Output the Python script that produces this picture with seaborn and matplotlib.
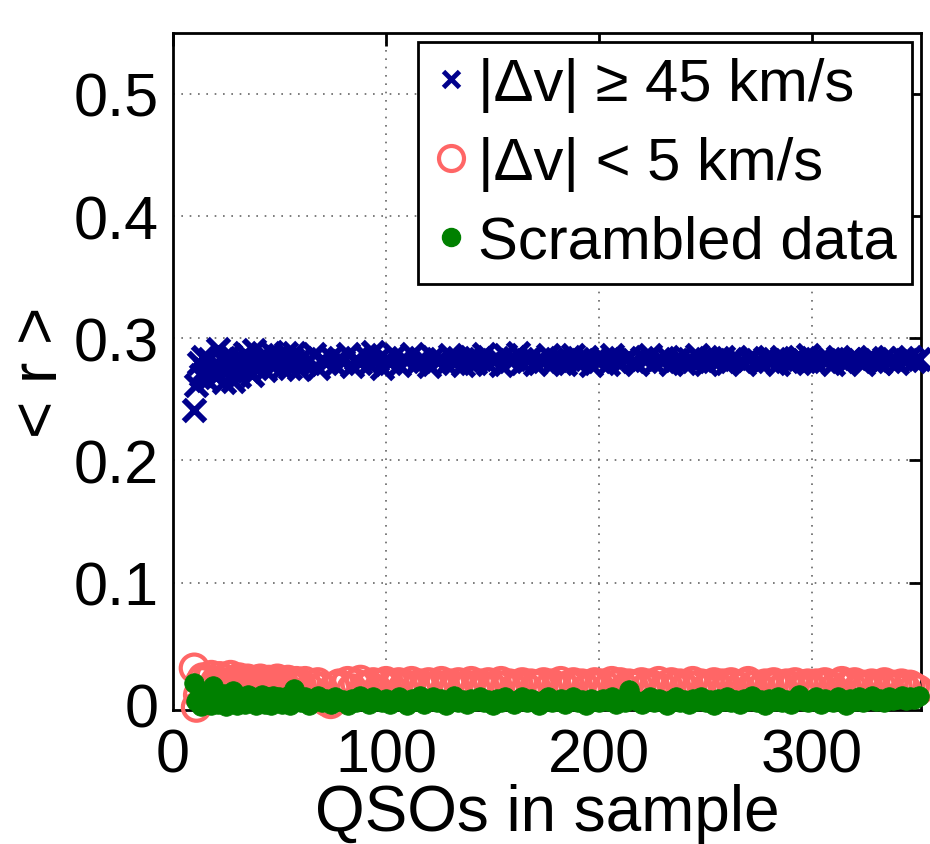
import matplotlib
matplotlib.use("Agg")
import matplotlib.pyplot as plt
from matplotlib.lines import Line2D
import seaborn as sns
import pandas as pd

# ---- data ----
n_qso = list(range(10, 60)) + list(range(60, 351, 2))

r_large = [
    0.241, 0.262, 0.280, 0.270, 0.285, 0.275, 0.266, 0.283, 0.272, 0.278,
    0.268, 0.291, 0.276, 0.283, 0.264, 0.280, 0.274, 0.286, 0.265, 0.281,
    0.277, 0.269, 0.284, 0.279, 0.288, 0.273, 0.282, 0.270, 0.290, 0.276,
    0.279, 0.284, 0.286, 0.274, 0.281, 0.283, 0.289, 0.277, 0.280, 0.285,
    0.281, 0.276, 0.285, 0.288, 0.279, 0.276, 0.283, 0.288, 0.280, 0.275,
    0.284, 0.279, 0.282, 0.287, 0.276, 0.283, 0.280, 0.285, 0.278, 0.284,
    0.281, 0.287, 0.277, 0.283, 0.280, 0.286, 0.279, 0.289, 0.282, 0.276,
    0.283, 0.280, 0.286, 0.278, 0.284, 0.281, 0.287, 0.279, 0.283, 0.282,
    0.277, 0.285, 0.281, 0.283, 0.279, 0.286, 0.280, 0.284, 0.278, 0.282,
    0.285, 0.280, 0.283, 0.287, 0.279, 0.282, 0.284, 0.278, 0.286, 0.281,
    0.283, 0.288, 0.280, 0.282, 0.285, 0.279, 0.283, 0.281, 0.286, 0.280,
    0.282, 0.284, 0.279, 0.283, 0.286, 0.280, 0.282, 0.285, 0.278, 0.283,
    0.281, 0.284, 0.279, 0.286, 0.282, 0.280, 0.283, 0.285, 0.281, 0.279,
    0.284, 0.282, 0.286, 0.280, 0.283, 0.281, 0.285, 0.279, 0.282, 0.284,
    0.280, 0.283, 0.281, 0.286, 0.282, 0.279, 0.284, 0.281, 0.283, 0.285,
    0.280, 0.282, 0.284, 0.281, 0.279, 0.283, 0.285, 0.282, 0.280, 0.284,
    0.281, 0.283, 0.279, 0.285, 0.282, 0.280, 0.284, 0.283, 0.281, 0.286,
    0.282, 0.280, 0.284, 0.281, 0.283, 0.279, 0.285, 0.282, 0.280, 0.283,
    0.284, 0.281, 0.279, 0.283, 0.285, 0.282, 0.280, 0.284, 0.281, 0.283,
    0.280, 0.284, 0.282, 0.285, 0.281, 0.283,
]

r_small = [
    0.030, -0.002, 0.008, 0.019, 0.022, 0.004, 0.020, 0.012, 0.024, 0.015,
    0.019, 0.009, 0.023, 0.016, 0.021, 0.013, 0.018, 0.024, 0.014, 0.020,
    0.017, 0.022, 0.011, 0.019, 0.016, 0.021, 0.015, 0.018, 0.013, 0.020,
    0.017, 0.021, 0.014, 0.019, 0.015, 0.020, 0.012, 0.018, 0.016, 0.021,
    0.014, 0.019, 0.017, 0.013, 0.020, 0.016, 0.018, 0.015, 0.019, 0.014,
    0.017, 0.019, 0.013, 0.016, 0.018, 0.014, 0.003, 0.001, 0.015, 0.017,
    0.015, 0.019, 0.013, 0.017, 0.020, 0.014, 0.016, 0.018, 0.012, 0.017,
    0.019, 0.015, 0.016, 0.018, 0.014, 0.016, 0.019, 0.013, 0.017, 0.015,
    0.018, 0.014, 0.016, 0.019, 0.013, 0.017, 0.015, 0.018, 0.014, 0.016,
    0.019, 0.013, 0.017, 0.015, 0.018, 0.014, 0.016, 0.019, 0.015, 0.017,
    0.013, 0.016, 0.018, 0.014, 0.017, 0.015, 0.016, 0.018, 0.013, 0.017,
    0.015, 0.019, 0.014, 0.016, 0.018, 0.015, 0.017, 0.013, 0.016, 0.018,
    0.015, 0.017, 0.014, 0.019, 0.016, 0.018, 0.013, 0.017, 0.015, 0.016,
    0.018, 0.014, 0.017, 0.015, 0.019, 0.013, 0.016, 0.018, 0.015, 0.017,
    0.014, 0.016, 0.019, 0.015, 0.017, 0.013, 0.016, 0.018, 0.014, 0.017,
    0.015, 0.018, 0.016, 0.014, 0.017, 0.019, 0.015, 0.016, 0.013, 0.017,
    0.015, 0.018, 0.016, 0.014, 0.017, 0.015, 0.018, 0.013, 0.016, 0.017,
    0.014, 0.017, 0.015, 0.018, 0.016, 0.013, 0.017, 0.019, 0.015, 0.016,
    0.018, 0.014, 0.016, 0.015, 0.017, 0.013, 0.016, 0.018, 0.014, 0.016,
    0.015, 0.017, 0.013, 0.016, 0.014, 0.012,
]

r_scrambled = [
    0.018, 0.003, 0.006, -0.001, 0.008, 0.002, 0.010, 0.004, 0.000, 0.015,
    0.005, 0.001, 0.007, 0.003, 0.009, -0.001, 0.006, 0.002, 0.011, 0.004,
    0.000, 0.007, 0.003, 0.005, 0.001, 0.008, 0.002, 0.006, 0.004, 0.000,
    0.005, 0.002, 0.008, 0.001, 0.006, 0.003, 0.000, 0.007, 0.004, 0.002,
    0.006, 0.001, 0.005, 0.003, 0.007, 0.000, 0.004, 0.013, 0.003, 0.005,
    0.002, 0.006, 0.000, 0.004, 0.007, 0.002, 0.005, 0.001, 0.006, 0.003,
    0.004, 0.000, 0.005, 0.002, 0.007, 0.003, 0.001, 0.006, 0.004, 0.002,
    0.005, 0.001, 0.004, 0.006, 0.002, 0.000, 0.005, 0.003, 0.007, 0.001,
    0.004, 0.006, 0.002, 0.005, 0.000, 0.003, 0.007, 0.002, 0.004, 0.001,
    0.005, 0.003, 0.006, 0.002, 0.004, 0.000, 0.005, 0.002, 0.006, 0.003,
    0.001, 0.004, 0.006, 0.002, 0.005, 0.003, 0.000, 0.004, 0.006, 0.002,
    0.003, 0.005, 0.001, 0.004, 0.006, 0.002, 0.004, 0.000, 0.005, 0.003,
    0.002, 0.005, 0.003, 0.006, 0.001, 0.004, 0.002, 0.012, 0.005, 0.003,
    0.001, 0.004, 0.006, 0.002, 0.005, 0.003, 0.000, 0.004, 0.006, 0.002,
    0.004, 0.001, 0.005, 0.003, 0.006, 0.002, 0.004, 0.000, 0.005, 0.003,
    0.006, 0.002, 0.004, 0.001, 0.005, 0.003, 0.007, 0.002, 0.004, 0.000,
    0.005, 0.003, 0.006, 0.002, 0.004, 0.001, 0.005, 0.008, 0.003, 0.002,
    0.004, 0.006, 0.001, 0.005, 0.003, 0.002, 0.006, 0.004, 0.000, 0.005,
    0.003, 0.006, 0.002, 0.004, 0.007, 0.003, 0.005, 0.002, 0.006, 0.004,
    0.005, 0.007, 0.004, 0.006, 0.005, 0.007,
]

labels = ["|\u0394v| \u2265 45 km/s", "|\u0394v| < 5 km/s", "Scrambled data"]
x_ticks = [0, 100, 200, 300]
y_ticks = [0, 0.1, 0.2, 0.3, 0.4, 0.5]
y_tick_labels = ["0", "0.1", "0.2", "0.3", "0.4", "0.5"]

c_blue = "#00008C"
c_red = "#FF6666"
c_green = "#008000"

sns.set_style("white")
plt.rcParams["font.family"] = ["Liberation Sans", "DejaVu Sans"]
plt.rcParams["text.color"] = "black"
plt.rcParams["axes.labelcolor"] = "black"
plt.rcParams["xtick.color"] = "black"
plt.rcParams["ytick.color"] = "black"

fig = plt.figure(figsize=(9.3, 8.45), dpi=100)
ax = fig.add_axes([0.186, 0.159, 0.804, 0.801])

df = pd.DataFrame({"N": n_qso, "big": r_large, "small": r_small, "scr": r_scrambled})

sns.scatterplot(data=df, x="N", y="big", ax=ax, marker="x", s=240,
                color=c_blue, linewidth=4.2, clip_on=False, zorder=3)
sns.scatterplot(data=df, x="N", y="small", ax=ax, marker="o", s=380,
                facecolor="none", edgecolor=c_red, linewidth=3.0, clip_on=False, zorder=4)
sns.scatterplot(data=df, x="N", y="scr", ax=ax, marker="o", s=200,
                color=c_green, edgecolor=c_green, linewidth=0.5, clip_on=False, zorder=5)

ax.set_xlim(0, 351)
ax.set_ylim(-0.004, 0.55)
ax.set_xticks(x_ticks)
ax.set_yticks(y_ticks)
ax.set_yticklabels(y_tick_labels)
ax.grid(True, linestyle=(0, (1, 4)), color="#666666", linewidth=1.2)
ax.set_axisbelow(True)

for sp in ax.spines.values():
    sp.set_visible(True)
    sp.set_color("black")
    sp.set_linewidth(2)

ax.tick_params(direction="in", length=9, width=2, top=True, right=True,
               labelsize=44, pad=10, colors="black")
ax.tick_params(axis="x", pad=13)

ax.set_xlabel("QSOs in sample", fontsize=46)
ax.xaxis.label.set_verticalalignment("bottom")
ax.xaxis.set_label_coords(0.5, -0.197)
ax.set_ylabel("< r >", fontsize=46)
ax.yaxis.set_label_coords(-0.138, 0.5)

handles = [
    Line2D([], [], linestyle="none", marker="x", color=c_blue, markersize=12, markeredgewidth=3.5),
    Line2D([], [], linestyle="none", marker="o", markerfacecolor="none", markeredgecolor=c_red,
           markersize=18, markeredgewidth=3),
    Line2D([], [], linestyle="none", marker="o", color=c_green, markersize=13),
]
leg = ax.legend(handles, labels, loc="upper right", fontsize=43, frameon=True,
                fancybox=False, edgecolor="black", framealpha=1, borderpad=0.25,
                labelspacing=0.4, handlelength=0.6, handletextpad=0.15,
                borderaxespad=0.15)
leg.get_frame().set_linewidth(2)
leg.set_zorder(10)

fig.savefig("out.png", dpi=100)
